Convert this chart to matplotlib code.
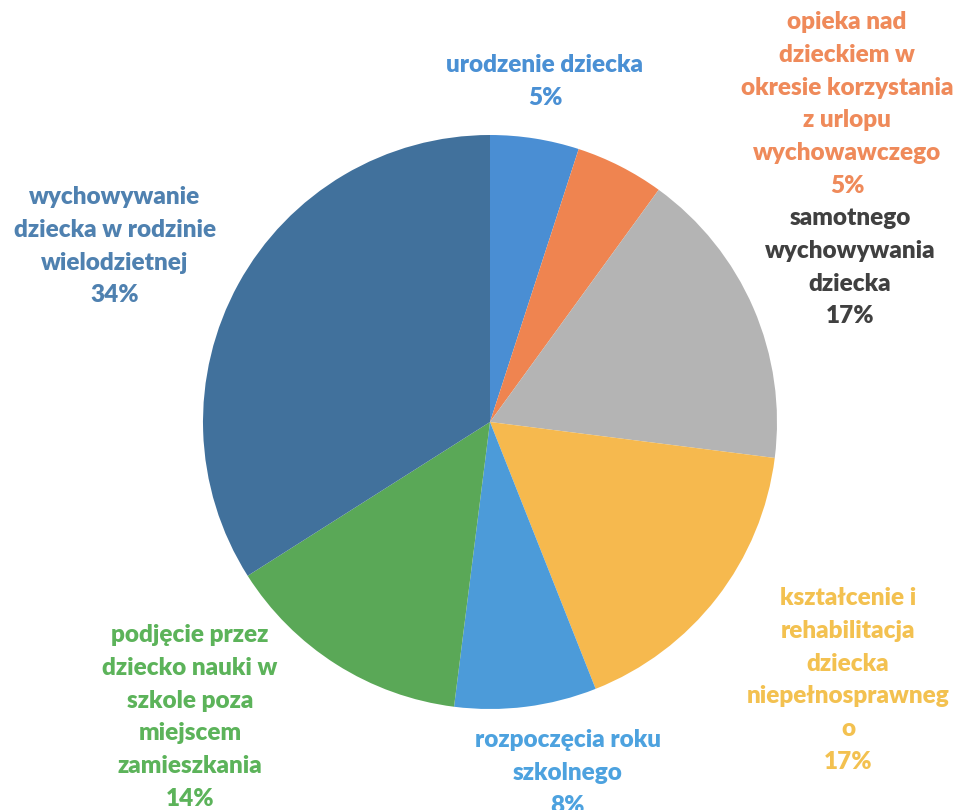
import matplotlib.pyplot as plt

# dane
kategorie = ['urodzenie dziecka',
             'opieka nad\ndzieckiem w\nokresie korzystania\nz urlopu\nwychowawczego',
             'samotnego\nwychowywania\ndziecka',
             'kształcenie i\nrehabilitacja\ndziecka\nniepełnosprawneg\no',
             'rozpoczęcia roku\nszkolnego',
             'podjęcie przez\ndziecko nauki w\nszkole poza\nmiejscem\nzamieszkania',
             'wychowywanie\ndziecka w rodzinie\nwielodzietnej']
udzial = [5, 5, 17, 17, 8, 14, 34]
kolory = ['#4a8ed3', '#ef8450', '#b4b4b4', '#f6b94e', '#4c9bd9', '#5aa857', '#41719c']
kolory_tekstu = ['#4a90d4', '#ef8a5a', '#404040', '#f3c150', '#4da2df', '#5cb35a', '#4f81b0']
# pozycje etykiet (srodek, gora tekstu, piksele od gory)
pozycje = [(545, 54), (847, 11), (850, 207), (848, 587), (568, 729), (190, 624), (115, 186)]

plt.rcParams['font.family'] = ['Lato', 'DejaVu Sans']

W, H = 962, 810
fig = plt.figure(figsize=(W / 100, H / 100), dpi=100)
ax = fig.add_axes([0, 0, 1, 1])

ax.pie(udzial, colors=kolory, startangle=90, counterclock=False,
       center=(490, H - 422), radius=287, frame=True)
ax.set_xlim(0, W)
ax.set_ylim(0, H)
ax.set_aspect('equal')
ax.axis('off')

for kat, u, kol, (x, y) in zip(kategorie, udzial, kolory_tekstu, pozycje):
    ax.text(x, H - y, kat + '\n' + str(u) + '%', color=kol, fontsize=17.5,
            fontweight='heavy', ha='center', va='top', linespacing=1.6)

fig.savefig('out.png', dpi=100)
